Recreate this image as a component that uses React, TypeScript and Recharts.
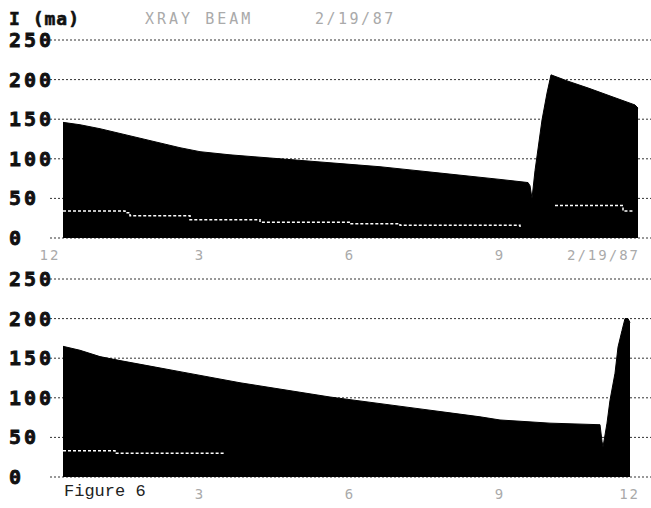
import { ComposedChart, Area, Line, XAxis, YAxis, CartesianGrid } from 'recharts';

// hours after 12 noon, beam current in mA
const topHours = [0.26, 0.6, 1.0, 1.4, 1.8, 2.2, 2.6, 3.0, 3.6, 4.2, 4.8, 5.4, 6.0, 6.6, 7.2, 7.8, 8.4, 9.0, 9.56, 9.6, 9.64, 9.7, 9.84, 9.94, 10.02, 10.36, 10.78, 11.26, 11.7, 11.76];
const topCurrent = [146, 143, 138, 132, 126, 120, 114, 109, 105, 102, 99, 96, 93, 90, 86, 82, 78, 74, 70, 66, 50, 85, 149, 183, 206, 198, 189, 178, 168, 164];

const topLowHours = [0.26, 1.5, 1.6, 2.6, 2.8, 4.1, 4.2, 6.0, 7.0, 9.4, 9.5, 10.1, 11.4, 11.46, 11.66];
const topLowValues = [34, 32, 28, 28, 23, 23, 20, 18, 16, 14, null, 41, 41, 34, 34];

const bottomHours = [0.26, 0.6, 1.0, 1.4, 2.0, 2.6, 3.2, 3.8, 4.4, 5.0, 5.6, 6.2, 6.8, 7.4, 8.0, 8.6, 9.0, 9.5, 10.0, 10.5, 11.0, 11.04, 11.06, 11.14, 11.2, 11.3, 11.36, 11.44, 11.5, 11.56, 11.6];
const bottomCurrent = [165, 160, 152, 147, 140, 133, 126, 119, 113, 107, 101, 96, 91, 86, 81, 76, 72, 70, 68, 67, 66, 45, 38, 68, 97, 131, 164, 185, 200, 200, 195];

const bottomLowHours = [0.26, 1.2, 1.3, 3.5];
const bottomLowValues = [33, 33, 30, 30];

const yTicks = [0, 50, 100, 150, 200, 250];
const topTicks = [0, 3, 6, 9, 12];
const topTickLabels = ['12', '3', '6', '9', '2/19/87'];
const bottomTicks = [3, 6, 9, 12];
const bottomTickLabels = ['3', '6', '9', '12'];

const topArea = topHours.map((h, i) => ({ h, ma: topCurrent[i] }));
const topLow = topLowHours.map((h, i) => ({ h, v: topLowValues[i] }));
const bottomArea = bottomHours.map((h, i) => ({ h, ma: bottomCurrent[i] }));
const bottomLow = bottomLowHours.map((h, i) => ({ h, v: bottomLowValues[i] }));

const YTick = ({ y, payload }: any) => (
  <text x={9} y={y} dy={7} fontFamily="DejaVu Sans Mono" fontWeight="bold" fontSize={20} letterSpacing={3} fill="#111" stroke="#111" strokeWidth={0.8}>
    {payload.value}
  </text>
);

const makeXTick = (ticks: number[], labels: string[]) => ({ x, y, payload }: any) => {
  const i = ticks.indexOf(payload.value);
  const last = i === ticks.length - 1;
  return (
    <text x={last ? x - 10 : x} y={y} dy={14} textAnchor={last ? 'end' : 'middle'} fontFamily="DejaVu Sans Mono" fontSize={14} letterSpacing={2} fill="#aaa">
      {labels[i]}
    </text>
  );
};

function Panel({ area, low, ticks, labels, height, top, bottom }: any) {
  return (
    <ComposedChart width={651} height={height} margin={{ top, right: 0, left: 0, bottom: 0 }}>
      <CartesianGrid vertical={false} stroke="#333" strokeDasharray="2 2" />
      <XAxis dataKey="h" type="number" domain={[0, 12.02]} ticks={ticks} allowDataOverflow
        axisLine={false} tickLine={false} height={bottom} tick={makeXTick(ticks, labels)} interval={0} />
      <YAxis type="number" domain={[0, 250]} ticks={yTicks} width={50} axisLine={false} tickLine={false} tick={<YTick />} interval={0} />
      <Area data={area} dataKey="ma" type="linear" stroke="#000" strokeWidth={1} fill="#000" fillOpacity={1} isAnimationActive={false} />
      <Line data={low} dataKey="v" type="stepAfter" stroke="#fff" strokeWidth={1.5} strokeDasharray="3 2" dot={false} isAnimationActive={false} />
    </ComposedChart>
  );
}

export default function App() {
  return (
    <div style={{ position: 'absolute', left: 0, top: 0, width: 651, height: 508, background: '#fff' }}>
      <div style={{ position: 'absolute', left: 0, top: 0 }}>
        <Panel area={topArea} low={topLow} ticks={topTicks} labels={topTickLabels} height={270} top={40} bottom={32} />
      </div>
      <div style={{ position: 'absolute', left: 0, top: 240 }}>
        <Panel area={bottomArea} low={bottomLow} ticks={bottomTicks} labels={bottomTickLabels} height={268} top={39} bottom={31} />
      </div>
      <div style={{ position: 'absolute', left: 9, top: 8, fontFamily: 'DejaVu Sans Mono', fontWeight: 'bold', fontSize: 18, letterSpacing: 1, color: '#111', whiteSpace: 'pre', WebkitTextStroke: '0.6px #111' }}>
        I (ma)
      </div>
      <div style={{ position: 'absolute', left: 145, top: 10, fontFamily: 'DejaVu Sans Mono', fontSize: 15, letterSpacing: 3, color: '#aaa', whiteSpace: 'pre' }}>
        XRAY BEAM
      </div>
      <div style={{ position: 'absolute', left: 315, top: 10, fontFamily: 'DejaVu Sans Mono', fontSize: 15, letterSpacing: 2.5, color: '#aaa', whiteSpace: 'pre' }}>
        2/19/87
      </div>
      <div style={{ position: 'absolute', left: 64, top: 482, fontFamily: 'Liberation Mono', fontSize: 17, color: '#222', whiteSpace: 'pre' }}>
        Figure 6
      </div>
    </div>
  );
}
